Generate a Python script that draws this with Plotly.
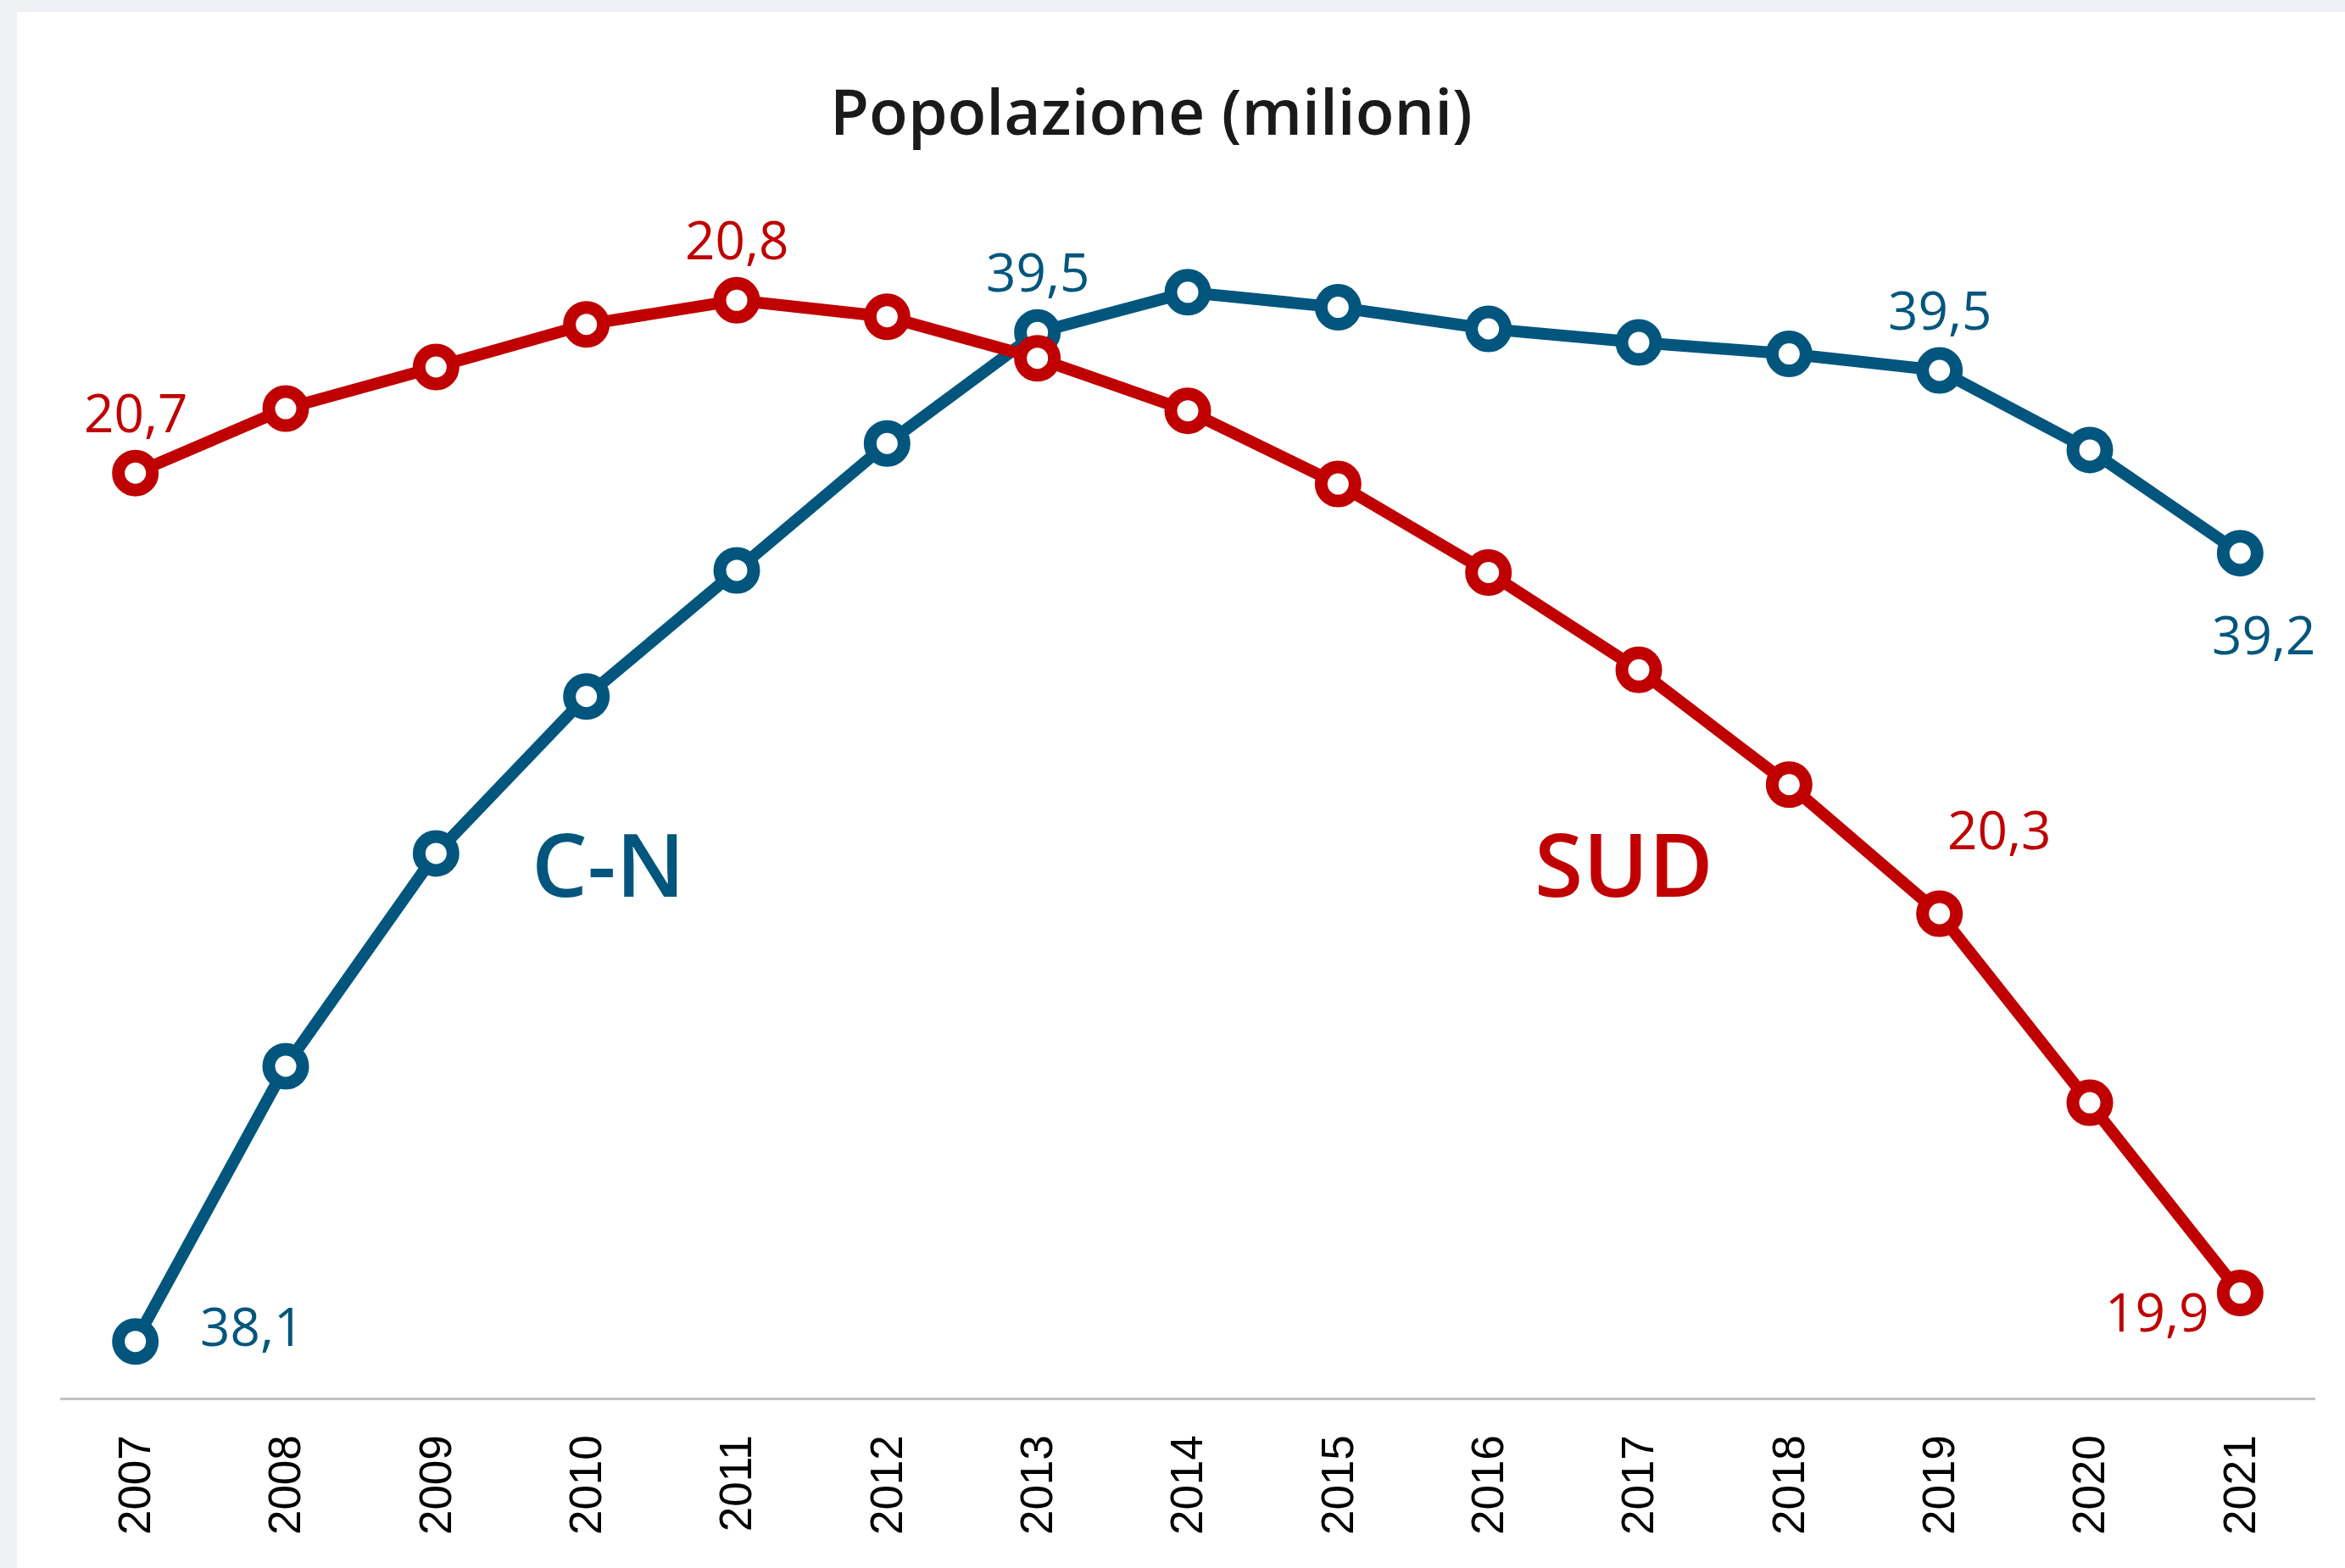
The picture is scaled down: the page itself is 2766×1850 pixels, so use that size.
import plotly.graph_objects as go

# ---------------- data ----------------
years = [2007, 2008, 2009, 2010, 2011, 2012, 2013, 2014, 2015, 2016, 2017, 2018, 2019, 2020, 2021]
cn = [38.100, 38.484, 38.781, 39.000, 39.176, 39.353, 39.508, 39.564, 39.543, 39.513, 39.494, 39.478, 39.455, 39.344, 39.200]
sud = [20.672, 20.731, 20.769, 20.808, 20.830, 20.815, 20.777, 20.729, 20.662, 20.581, 20.492, 20.387, 20.269, 20.096, 19.922]
cn_label_years = [2007, 2013, 2019, 2021]
sud_label_years = [2007, 2011, 2019, 2021]
title_text = "Popolazione (milioni)"
cn_name = "C-N"
sud_name = "SUD"

# ---------------- style ----------------
BLUE = "#02567e"
RED = "#c00000"
W, H = 2766, 1850
ML, MR, MT, MB = 71, 35, 250, 201
LABEL_FONT = "Open Sans"

# placement of value labels: (xanchor, xshift, yshift)
cn_label_pos = {2007: ("left", 74, 19), 2013: ("center", 0, 72), 2019: ("center", 0, 72), 2021: ("center", 28, -95)}
sud_label_pos = {2007: ("center", 0, 72), 2011: ("center", 0, 72), 2019: ("left", 7, 100), 2021: ("right", -35, -21)}

fig = go.Figure()

fig.add_trace(go.Scatter(
    x=years, y=cn, mode="lines+markers", name=cn_name, yaxis="y",
    line=dict(color=BLUE, width=14),
    marker=dict(size=40, color="white", line=dict(color=BLUE, width=15)),
    cliponaxis=False, hoverinfo="skip",
))
fig.add_trace(go.Scatter(
    x=years, y=sud, mode="lines+markers", name=sud_name, yaxis="y2",
    line=dict(color=RED, width=14),
    marker=dict(size=40, color="white", line=dict(color=RED, width=15)),
    cliponaxis=False, hoverinfo="skip",
))

def fmt(v):
    return f"{v:.1f}".replace(".", ",")

annotations = []
for yr in cn_label_years:
    v = cn[years.index(yr)]
    xa, xs, ys = cn_label_pos[yr]
    annotations.append(dict(x=yr, y=v, xref="x", yref="y", text=fmt(v), showarrow=False,
                            xanchor=xa, yanchor="middle", xshift=xs, yshift=ys,
                            font=dict(family=LABEL_FONT, size=62, color=BLUE, weight=500)))
for yr in sud_label_years:
    v = sud[years.index(yr)]
    xa, xs, ys = sud_label_pos[yr]
    annotations.append(dict(x=yr, y=v, xref="x", yref="y2", text=fmt(v), showarrow=False,
                            xanchor=xa, yanchor="middle", xshift=xs, yshift=ys,
                            font=dict(family=LABEL_FONT, size=62, color=RED, weight=500)))

# series names
annotations.append(dict(x=0.2432, y=0.4514, xref="paper", yref="paper", text=cn_name, showarrow=False,
                        xanchor="center", yanchor="middle",
                        font=dict(family=LABEL_FONT, size=104, color=BLUE, weight=600)))
annotations.append(dict(x=0.6936, y=0.4514, xref="paper", yref="paper", text=sud_name, showarrow=False,
                        xanchor="center", yanchor="middle",
                        font=dict(family=LABEL_FONT, size=104, color=RED, weight=600)))
# title
annotations.append(dict(x=0.4838, y=1.0858, xref="paper", yref="paper", text=title_text, showarrow=False,
                        xanchor="center", yanchor="middle",
                        font=dict(family=LABEL_FONT, size=75, color="#1a1a1a", weight=600)))

fig.update_layout(
    width=W, height=H,
    margin=dict(l=ML, r=MR, t=MT, b=MB, pad=0),
    paper_bgcolor="#eff0f4",
    plot_bgcolor="rgba(0,0,0,0)",
    showlegend=False,
    annotations=annotations,
    shapes=[dict(type="rect", xref="paper", yref="paper",
                 x0=(20 - ML) / (W - ML - MR), x1=(W - ML) / (W - ML - MR),
                 y0=-MB / (H - MT - MB), y1=(H - MB - 14) / (H - MT - MB),
                 fillcolor="white", line=dict(width=0), layer="below")],
    xaxis=dict(
        range=[2006.5, 2021.5], tickmode="array", tickvals=years, ticktext=[str(y) for y in years],
        tickangle=-90, showgrid=False, zeroline=False,
        showline=True, linecolor="#c3c3c3", linewidth=3,
        ticks="", ticklabelstandoff=20,
        tickfont=dict(family="Liberation Sans", size=53, color="black"),
        fixedrange=True,
    ),
    yaxis=dict(range=[38.0216, 39.6762], visible=False, fixedrange=True),
    yaxis2=dict(range=[19.8263, 20.9109], visible=False, overlaying="y", fixedrange=True),
)

fig.write_html("out.html", config={"displayModeBar": False},
               post_script="document.body.style.margin='0';document.body.style.overflow='hidden';")
